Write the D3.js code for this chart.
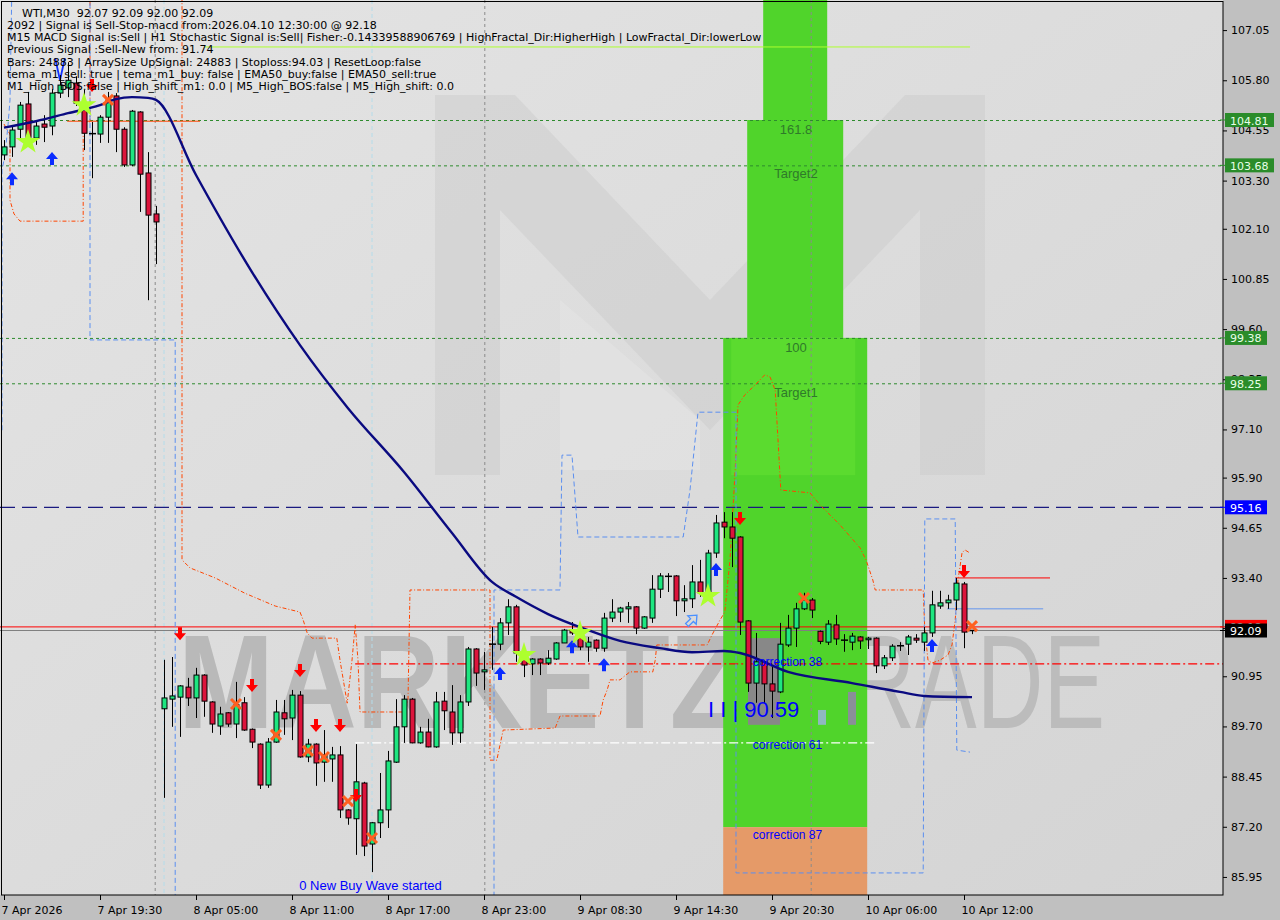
<!DOCTYPE html>
<html><head><meta charset="utf-8">
<script src="https://cdn.jsdelivr.net/npm/d3@7"></script>
<style>body{margin:0;background:#c0c0c0;}svg{display:block}</style>
</head><body><svg id="c" width="1280" height="920"></svg>
<script>
// ---------------- DATA ----------------
const timeTickBars = [0,12,24,36,48,60,72,84,96,108,120];
const timeTickLabels = ["7 Apr 2026","7 Apr 19:30","8 Apr 05:00","8 Apr 11:00","8 Apr 17:00","8 Apr 23:00","9 Apr 08:30","9 Apr 14:30","9 Apr 20:30","10 Apr 06:00","10 Apr 12:00"];
const priceTicks = [107.05,105.80,104.55,103.30,102.10,100.85,99.60,98.35,97.10,95.90,94.65,93.40,92.15,90.95,89.70,88.45,87.20,85.95];

const open = [103.94,104.14,104.58,105.21,104.36,104.71,104.66,105.48,105.61,105.73,105.23,104.48,104.46,104.88,105.41,104.58,103.69,105.01,103.49,102.47,
90.14,90.38,90.43,90.68,90.41,90.98,90.31,89.71,90.04,89.76,90.29,89.63,89.26,88.24,89.31,90.04,89.91,90.48,88.94,89.26,
88.81,88.89,88.99,87.62,87.40,88.29,86.77,87.30,87.62,88.81,89.69,90.38,89.29,89.56,89.19,90.33,90.06,89.54,90.31,91.63,
91.06,91.75,91.75,92.28,92.68,91.48,91.26,91.38,91.28,91.38,91.78,92.10,91.93,91.68,91.85,91.65,92.40,92.55,92.63,92.68,
92.15,92.40,93.12,93.45,93.45,92.83,92.88,93.30,93.03,94.02,94.79,94.67,94.42,92.33,90.78,91.31,90.76,90.56,91.73,92.15,
92.63,92.85,92.07,91.80,92.23,91.86,91.80,91.93,91.86,91.90,91.21,91.41,91.70,91.75,91.90,91.80,92.03,92.70,92.78,92.85,
93.25,92.07];
const high = [104.31,104.68,105.26,105.51,104.81,104.93,105.58,105.93,106.25,105.90,105.56,104.76,104.93,105.51,105.48,104.63,105.06,105.03,104.01,102.67,
91.36,91.43,90.73,90.91,91.16,91.00,90.33,90.19,90.06,90.81,90.43,89.65,89.28,89.41,90.36,90.36,90.61,90.58,89.39,89.28,
89.61,89.19,89.21,87.64,89.26,88.32,87.32,88.54,89.09,90.38,90.48,90.41,89.69,89.89,90.56,90.56,90.73,90.48,91.68,91.65,
91.56,92.18,92.40,92.87,92.73,91.60,91.40,91.40,91.60,91.80,92.13,92.30,92.03,91.93,91.87,92.53,92.87,92.68,92.80,92.70,
92.45,93.47,93.52,93.52,93.47,93.22,93.72,93.85,94.10,94.97,95.04,95.04,94.44,92.35,92.03,91.33,91.18,92.28,92.48,92.78,
93.03,92.90,92.09,92.35,92.48,92.00,92.03,91.95,91.93,91.92,91.48,91.75,91.80,91.98,92.00,92.18,93.08,93.08,92.98,93.40,
93.30,92.09];
const low = [103.81,103.89,104.36,104.14,104.19,104.26,104.43,105.36,105.38,105.16,104.06,103.36,104.24,104.24,104.01,103.64,103.66,102.52,100.32,101.22,
87.92,89.69,89.44,90.21,89.91,89.94,89.54,89.49,89.69,89.41,89.59,89.16,88.14,88.17,89.29,89.49,89.36,88.92,88.81,88.22,
88.32,88.32,87.42,87.25,86.50,86.47,86.07,86.92,87.17,88.79,89.29,89.28,89.27,89.18,89.17,89.61,89.24,89.29,90.21,90.71,
90.61,91.11,91.60,91.98,91.31,90.93,90.98,90.98,91.23,91.36,91.78,91.98,91.60,91.31,91.56,91.56,92.30,92.30,92.28,92.00,
92.13,92.28,92.90,93.05,92.45,92.55,92.65,92.93,92.93,93.90,94.39,93.67,91.98,90.56,90.29,90.29,89.91,90.53,91.68,91.68,
92.60,92.40,91.75,91.73,91.73,91.56,91.60,91.63,91.63,91.03,91.13,91.33,91.58,91.48,91.78,91.58,91.93,92.63,92.63,92.60,
91.65,92.00];
const close = [104.14,104.56,105.18,104.38,104.66,104.63,105.48,105.68,105.80,105.23,104.48,104.47,104.88,105.31,104.58,103.69,105.03,103.46,102.44,102.27,
90.41,90.46,90.71,90.41,90.98,90.33,89.76,90.01,89.76,90.24,89.61,89.31,88.24,89.31,90.06,89.89,90.48,88.94,89.26,88.79,
88.99,88.99,87.62,87.42,88.32,86.72,87.30,87.62,88.84,89.69,90.38,89.29,89.56,89.19,90.31,90.09,89.54,90.31,91.63,91.03,
91.11,91.75,92.28,92.68,91.53,91.23,91.38,91.28,91.40,91.78,92.10,92.03,91.68,91.80,91.65,92.40,92.55,92.65,92.68,92.15,
92.43,93.12,93.45,93.44,92.83,92.88,93.30,93.03,94.02,94.77,94.67,94.39,92.30,90.78,91.31,90.76,90.58,91.75,92.15,92.63,
92.85,92.60,91.82,92.25,91.88,91.85,91.95,91.83,91.90,91.21,91.41,91.70,91.71,91.93,91.85,92.03,92.73,92.78,92.85,93.27,
92.05,92.09];

const emaBars = [0,4,8,12,14,16,18,19,24,31,37,43,50,56,61,64,68,73,77,82,86,90,92,98,106,112,115,121];
const emaVals = [104.62,104.78,104.98,105.18,105.33,105.38,105.36,105.31,103.44,101.02,99.20,97.63,96.04,94.52,93.30,92.93,92.50,92.10,91.83,91.65,91.55,91.58,91.53,91.06,90.78,90.56,90.46,90.43];

const orangeBars = [0,0.4,0.75,0.75,1.25,2,9.9,9.9,10.75,10.75,22.25,22.25,23.25,26.4,30.1,33.9,37,37.4,37.9,38.5,41.6,42,42.9,43.5,43.9,44.25,44.5,49.9,50.5,50.75,60.75,60.75,61.6,62,62.4,68.9,69.5,74.5,74.9,75.4,75.75,77,77.6,78.25,81.1,81.4,81.6,87.9,88.5,89.5,90.1,90.75,91.4,91.75,92.6,93.9,95.1,95.75,96.4,96.75,97.1,100.75,102,104.5,107,107.75,108.6,108.9,114.9,115.1,115.5,116,117,118,118.5,118.9,119.25,119.75,120.1,120.75];
const orangeVals = [104.71,104.56,104.46,102.81,102.47,102.29,102.29,104.76,104.76,108.3,108.3,93.85,93.65,93.40,93.02,92.70,92.55,92.35,92.03,91.90,91.90,91.35,90.28,91.35,92.23,91.35,90.06,90.06,90.36,93.10,93.10,88.86,88.86,89.24,89.61,89.66,89.96,89.96,90.36,90.61,90.86,90.86,90.96,91.06,91.06,91.35,91.73,91.73,91.98,92.35,92.55,93.85,96.09,97.71,97.96,98.21,98.46,98.41,98.08,96.84,95.59,95.52,95.22,94.72,94.15,93.85,93.35,93.10,93.10,92.10,91.35,91.28,91.35,91.48,91.73,92.35,93.35,94.02,94.10,94.02];

const blueBars = [-0.25,-0.25,0.125,0.5,0.75,1,10.75,10.75,21.4,21.4,61.25,61.25,69.5,69.75,71,71.75,84.9,85.75,86.75,91.5,91.5,114.9,115.1,118.9,119.1,120.75];
const blueVals = [97.08,103.56,103.94,104.68,105.31,108.3,108.3,99.33,99.33,84.88,84.88,93.10,93.10,96.46,96.46,94.42,94.42,95.59,97.53,97.53,86.05,86.05,94.87,94.87,89.11,89.06];

const greenLevels = [104.81,103.68,99.38,98.25];
const bidPrice = 92.09, signalPrice = 92.18, stopLevel = 95.16;
const redDashLevel = 91.26, whiteDashLevel = 89.29;

const upArrowBars = [1,6,62,71,75,89,116];
const upArrowVals = [103.51,104.01,91.18,91.85,91.40,93.77,91.88];
const downArrowBars = [11,22,31,37,39,42,44,92,120];
const downArrowVals = [105.51,91.85,90.56,90.93,89.56,89.56,87.82,94.72,93.40];
const crossBars = [13,29,34,38,40,43,46,100,121];
const crossVals = [105.31,90.26,89.49,89.09,88.94,87.84,86.92,92.90,92.20];
const starBars = [3,10,65,72,88];
const starVals = [104.26,105.18,91.48,92.03,92.95];

const infoLines = [
"WTI,M30  92.07 92.09 92.00 92.09",
"2092 | Signal is Sell-Stop-macd from:2026.04.10 12:30:00 @ 92.18",
"M15 MACD Signal is:Sell | H1 Stochastic Signal is:Sell| Fisher:-0.14339588906769 | HighFractal_Dir:HigherHigh | LowFractal_Dir:lowerLow",
"Previous Signal :Sell-New from: 91.74",
"Bars: 24883 | ArraySize UpSignal: 24883 | Stoploss:94.03 | ResetLoop:false",
"tema_m1_sell: true | tema_m1_buy: false | EMA50_buy:false | EMA50_sell:true",
"M1_High_BOS:false | High_shift_m1: 0.0 | M5_High_BOS:false | M5_High_shift: 0.0"];

// ---------------- SETUP ----------------
const PR = 1223, PB = 895;
const x = d3.scaleLinear().domain([0,121]).range([4,972]);
const y = d3.scaleLinear().domain([85.5,107.8]).range([PB,0]);
const svg = d3.select('#c');
const defs = svg.append('defs');
defs.append('clipPath').attr('id','clip').append('rect').attr('x',0).attr('y',0).attr('width',PR).attr('height',PB);
const grad = defs.append('linearGradient').attr('id','bg').attr('x1',0).attr('y1',0).attr('x2',1).attr('y2',1);
grad.append('stop').attr('offset',0).attr('stop-color','#e4e4e4');
grad.append('stop').attr('offset',1).attr('stop-color','#d4d4d4');

svg.append('rect').attr('width',1280).attr('height',920).attr('fill','#c0c0c0');
svg.append('rect').attr('width',PR).attr('height',PB).attr('fill','url(#bg)');
const g = svg.append('g').attr('clip-path','url(#clip)');

// watermark logo (M)
g.append('path').attr('d','M435,475 L435,95 L515,95 L710,300 L905,95 L985,95 L985,475 L920,475 L920,210 L710,430 L500,210 L500,475 Z')
  .attr('fill','#c9c9c9').attr('opacity',0.45);
g.append('path').attr('d','M560,470 L560,300 L700,420 L700,470 Z').attr('fill','#e6e6e6').attr('opacity',0.5);
// watermark text
g.append('text').attr('x',178).attr('y',728).attr('font-family','Liberation Sans, Arial').attr('font-weight','bold')
  .attr('font-size',134).attr('fill','#b9b9b9').attr('textLength',562).attr('lengthAdjust','spacingAndGlyphs').text('MARKETZ');
g.append('text').attr('x',792).attr('y',728).attr('font-family','Liberation Sans, Arial')
  .attr('font-size',134).attr('fill','#bcbcbc').attr('textLength',313).attr('lengthAdjust','spacingAndGlyphs').text('TRADE');

// zones
const zoneG = g.append('g');
const zoneGreen = '#50d42b';
zoneG.append('rect').attr('x',x(94.9)).attr('y',y(107.9)).attr('width',x(102.9)-x(94.9)).attr('height',y(104.81)-y(107.9)).attr('fill',zoneGreen);
zoneG.append('rect').attr('x',x(92.9)).attr('y',y(104.81)).attr('width',x(104.9)-x(92.9)).attr('height',y(99.38)-y(104.81)).attr('fill',zoneGreen);
zoneG.append('rect').attr('x',x(89.9)).attr('y',y(99.38)).attr('width',x(107.9)-x(89.9)).attr('height',y(87.19)-y(99.38)).attr('fill',zoneGreen);
zoneG.append('rect').attr('x',x(90.9)).attr('y',y(99.38)).attr('width',x(106.4)-x(90.9)).attr('height',y(95.96)-y(99.38)).attr('fill','#5bdb2f');
zoneG.append('rect').attr('x',x(89.9)).attr('y',y(87.19)).attr('width',x(107.9)-x(89.9)).attr('height',y(85.4)-y(87.19)).attr('fill','#e59a68');
zoneG.append('rect').attr('x',x(93)).attr('y',y(91.9)).attr('width',x(97)-x(93)).attr('height',y(89.74)-y(91.9)).attr('fill','#888888');
zoneG.append('rect').attr('x',x(101.75)).attr('y',y(90.11)).attr('width',8).attr('height',y(89.74)-y(90.11)).attr('fill','#8fb8c0');
zoneG.append('rect').attr('x',x(105.5)).attr('y',y(90.56)).attr('width',8).attr('height',y(89.74)-y(90.56)).attr('fill','#8a8f98');

// zone labels
const zl = [["161.8",104.46],["Target2",103.36],["100",99.03],["Target1",97.91]];
g.selectAll('.zl').data(zl).join('text').attr('x',x(99)).attr('y',d=>y(d[1])).attr('text-anchor','middle')
  .attr('font-family','Liberation Sans, Arial').attr('font-size',13).attr('fill','#2f7a2a').text(d=>d[0]);

// vertical separators
[18.9,60.1,100.9].forEach(b=>g.append('line').attr('x1',x(b)).attr('x2',x(b)).attr('y1',0).attr('y2',PB).attr('stroke','#8a8a8a').attr('stroke-dasharray','3,3'));
[20,46].forEach(b=>g.append('line').attr('x1',x(b)).attr('x2',x(b)).attr('y1',0).attr('y2',PB).attr('stroke','#b4dcea').attr('stroke-dasharray','4,3'));

// horizontal lines
greenLevels.forEach(v=>g.append('line').attr('x1',0).attr('x2',PR).attr('y1',y(v)+0.5).attr('y2',y(v)+0.5).attr('stroke','#2e8b2e').attr('stroke-dasharray','3,3'));
g.append('line').attr('x1',0).attr('x2',PR).attr('y1',y(stopLevel)).attr('y2',y(stopLevel)).attr('stroke','#1a1a80').attr('stroke-width',1.2).attr('stroke-dasharray','15,7');
g.append('line').attr('x1',x(43.9)).attr('x2',PR).attr('y1',y(redDashLevel)).attr('y2',y(redDashLevel)).attr('stroke','#ff0000').attr('stroke-width',1.3).attr('stroke-dasharray','9,3,2,3');
g.append('line').attr('x1',x(43.9)).attr('x2',x(108.9)).attr('y1',y(whiteDashLevel)).attr('y2',y(whiteDashLevel)).attr('stroke','#ffffff').attr('stroke-width',1.2).attr('stroke-dasharray','9,3,2,3');
g.append('line').attr('x1',0).attr('x2',PR).attr('y1',y(signalPrice)).attr('y2',y(signalPrice)).attr('stroke','#ff0000');
g.append('line').attr('x1',0).attr('x2',PR).attr('y1',y(bidPrice)).attr('y2',y(bidPrice)).attr('stroke','#808080');
g.append('line').attr('x1',x(118.9)).attr('x2',x(130.75)).attr('y1',y(93.40)).attr('y2',y(93.40)).attr('stroke','#ff0000');
g.append('line').attr('x1',x(117.9)).attr('x2',x(129.9)).attr('y1',y(92.63)).attr('y2',y(92.63)).attr('stroke','#6495ed');
g.append('line').attr('x1',x(25.1)).attr('x2',x(120.75)).attr('y1',y(106.63)).attr('y2',y(106.63)).attr('stroke','#adff2f');
g.append('line').attr('x1',x(7.9)).attr('x2',x(24.5)).attr('y1',y(104.78)).attr('y2',y(104.78)).attr('stroke','#ff4500');

// indicator step lines
const lineGen = d3.line().x(d=>x(d[0])).y(d=>y(d[1]));
g.append('path').attr('d',lineGen(orangeBars.map((b,i)=>[b,orangeVals[i]]))).attr('fill','none').attr('stroke','#ff4500').attr('stroke-dasharray','4,2,1,2');
g.append('path').attr('d',lineGen(blueBars.map((b,i)=>[b,blueVals[i]]))).attr('fill','none').attr('stroke','#5b8ff0').attr('stroke-dasharray','5,3');
g.append('path').attr('d',lineGen([[6.4,106.35],[7,105.80],[7.6,106.35]])).attr('fill','none').attr('stroke','#1030ff').attr('stroke-width',1.8);

// candles
const idx = d3.range(open.length);
const cg = g.append('g');
cg.selectAll('.w').data(idx).join('line').attr('x1',i=>Math.round(x(i))+0.5).attr('x2',i=>Math.round(x(i))+0.5)
  .attr('y1',i=>y(high[i])).attr('y2',i=>y(low[i])).attr('stroke','#000');
cg.selectAll('.b').data(idx.filter(i=>Math.abs(open[i]-close[i])>=0.03)).join('rect')
  .attr('x',i=>Math.round(x(i))-2).attr('y',i=>y(Math.max(open[i],close[i])))
  .attr('width',5).attr('height',i=>Math.max(1,Math.abs(y(open[i])-y(close[i]))))
  .attr('fill',i=>close[i]>open[i]?'#1ee680':'#dc143c').attr('stroke','#000').attr('stroke-width',1);
cg.selectAll('.d').data(idx.filter(i=>Math.abs(open[i]-close[i])<0.03)).join('line')
  .attr('x1',i=>Math.round(x(i))-3).attr('x2',i=>Math.round(x(i))+4)
  .attr('y1',i=>y(close[i])).attr('y2',i=>y(close[i])).attr('stroke','#000').attr('stroke-width',1.5);

// EMA
g.append('path').attr('d',d3.line().curve(d3.curveMonotoneX).x(d=>x(d[0])).y(d=>y(d[1]))(emaBars.map((b,i)=>[b,emaVals[i]])))
  .attr('fill','none').attr('stroke','#0a0a80').attr('stroke-width',2.4);

// markers
const upPath = 'M0,0 L6,7 L2,7 L2,13 L-2,13 L-2,7 L-6,7 Z';
g.selectAll('.ua').data(upArrowBars).join('path').attr('d',upPath)
  .attr('transform',(b,i)=>`translate(${x(b)},${y(upArrowVals[i])})`).attr('fill','#0a2cff');
g.selectAll('.da').data(downArrowBars).join('path').attr('d',upPath)
  .attr('transform',(b,i)=>`translate(${x(b)},${y(downArrowVals[i])}) scale(1,-1)`).attr('fill','#ff0000');
g.selectAll('.cx').data(crossBars).join('path').attr('d','M-5,-5 L5,5 M-5,5 L5,-5')
  .attr('transform',(b,i)=>`translate(${x(b)},${y(crossVals[i])})`).attr('stroke','#ff6020').attr('stroke-width',3);
g.selectAll('.st').data(starBars).join('path').attr('d',d3.symbol(d3.symbolStar).size(190)())
  .attr('transform',(b,i)=>`translate(${x(b)},${y(starVals[i])})`).attr('fill','#adff2f');
g.append('path').attr('d','M0,-7 L6,0 L2,0 L2,7 L-2,7 L-2,0 L-6,0 Z')
  .attr('transform',`translate(${x(86)},${y(92.35)}) rotate(45)`).attr('fill','none').attr('stroke','#4a90ff').attr('stroke-width',1.3);

// chart texts
const tf = 'Liberation Sans, Arial';
[["correction 38",91.21],["correction 61",89.14],["correction 87",86.90]].forEach(d=>
  g.append('text').attr('x',x(93.6)).attr('y',y(d[1])).attr('font-family',tf).attr('font-size',12).attr('fill','#0000ff').text(d[0]));
g.append('text').attr('x',x(88)).attr('y',y(89.94)).attr('font-family',tf).attr('font-size',22).attr('fill','#0000ff').attr('xml:space','preserve').text('I I | 90.59');
g.append('text').attr('x',x(36.9)).attr('y',y(85.62)).attr('font-family',tf).attr('font-size',13).attr('fill','#0000ff').text('0 New Buy Wave started');

// info text
g.selectAll('.info').data(infoLines).join('text').attr('x',(d,i)=>i===0?22:7).attr('y',(d,i)=>16.5+i*12.25)
  .attr('font-family','DejaVu Sans, Tahoma').attr('font-size',11).attr('fill','#000').attr('xml:space','preserve').text(d=>d);

// frame
svg.append('rect').attr('x',1.5).attr('y',1.5).attr('width',PR-1.5).attr('height',PB-1.5).attr('fill','none').attr('stroke','#000');

// right axis
const ya = svg.append('g').attr('transform',`translate(${PR},0)`)
  .call(d3.axisRight(y).tickValues(priceTicks).tickFormat(d=>d.toFixed(2)).tickSize(4).tickPadding(4));
ya.select('.domain').remove();
ya.selectAll('text').attr('font-family','DejaVu Sans, Tahoma').attr('font-size',11).attr('fill','#000');

// bottom axis
const xa = svg.append('g').attr('transform',`translate(0,${PB})`)
  .call(d3.axisBottom(x).tickValues(timeTickBars).tickFormat((d,i)=>timeTickLabels[i]).tickSize(5).tickPadding(6));
xa.select('.domain').remove();
xa.selectAll('text').attr('text-anchor','start').attr('dx',-3).attr('font-family','DejaVu Sans, Tahoma').attr('font-size',11).attr('fill','#000');

// axis price labels
const axisLabels = [
  {v:104.81,bg:'#2a8c2a',fg:'#e8ffe8',w:49},{v:103.68,bg:'#2a8c2a',fg:'#e8ffe8',w:49},
  {v:99.38,bg:'#2a8c2a',fg:'#e8ffe8',w:42},{v:98.25,bg:'#2a8c2a',fg:'#e8ffe8',w:42},
  {v:95.16,bg:'#0000ff',fg:'#ffffff',w:42},{v:92.18,bg:'#ff0000',fg:'#ffffff',w:42},{v:92.09,bg:'#000000',fg:'#ffffff',w:42}];
const al = svg.append('g');
axisLabels.forEach(d=>{
  al.append('rect').attr('x',PR+2).attr('y',y(d.v)-7).attr('width',d.w).attr('height',14).attr('fill',d.bg);
  al.append('text').attr('x',PR+7).attr('y',y(d.v)+4.5).attr('font-family','DejaVu Sans, Tahoma').attr('font-size',11).attr('fill',d.fg).text(d.v.toFixed(2));
  al.append('line').attr('x1',PR-3).attr('x2',PR+2).attr('y1',y(d.v)).attr('y2',y(d.v)).attr('stroke',d.bg);
});
</script></body></html>
